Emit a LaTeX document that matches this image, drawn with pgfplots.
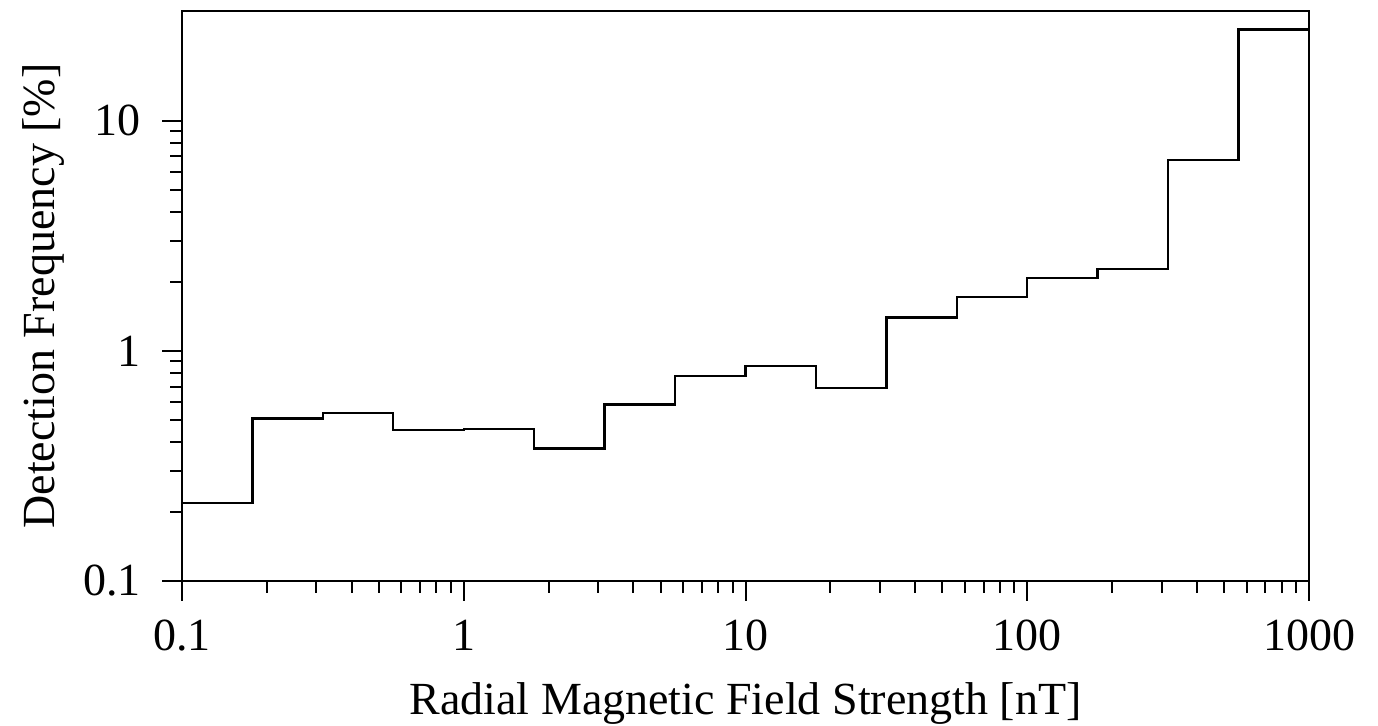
\documentclass[border=0pt]{standalone}
\usepackage{fontspec}
\setmainfont{Liberation Serif}
\usepackage{pgfplots}
\pgfplotsset{compat=1.18}
\begin{document}
\begin{tikzpicture}[font=\fontsize{23}{27}\selectfont]
\path[use as bounding box] (-91pt,-72.5pt) rectangle (598pt,290.5pt);
\begin{axis}[
  at={(0,0)}, anchor=south west,
  scale only axis, width=563.5pt, height=285pt,
  xmode=log, ymode=log,
  xmin=0.1, xmax=1000, ymin=0.1, ymax=30,
  xtick={0.1,1,10,100,1000}, xticklabels={0.1,1,10,100,1000},
  ytick={0.1,1,10}, yticklabels={0.1,1,10},
  xtick pos=bottom, ytick pos=left,
  tick align=outside,
  major tick length=10pt, minor tick length=6pt,
  every tick/.style={black, line width=1pt},
  axis line style={line width=1pt},
  /pgf/number format/assume math mode=true,
  xticklabel style={yshift=-6pt},
  yticklabel style={xshift=-7pt},
  xlabel={Radial Magnetic Field Strength [nT]},
  ylabel={Detection Frequency [\%]},
  xlabel style={at={([yshift=-67pt]axis description cs:0.5,0)}, anchor=base},
  ylabel style={at={([xshift=-63.5pt]axis description cs:0,0.5)}, anchor=base, rotate=0},
  clip=false,
]
\addplot[const plot mark left, black, line width=1.2pt, mark=none] coordinates {
(0.1,0.218) (0.17783,0.508) (0.31623,0.536) (0.56234,0.452)
(1,0.457) (1.7783,0.376) (3.1623,0.584) (5.6234,0.776)
(10,0.858) (17.783,0.688) (31.623,1.395) (56.234,1.717)
(100,2.08) (177.83,2.27) (316.23,6.75) (562.34,24.9) (1000,24.9)
};
\end{axis}
\end{tikzpicture}
\end{document}
